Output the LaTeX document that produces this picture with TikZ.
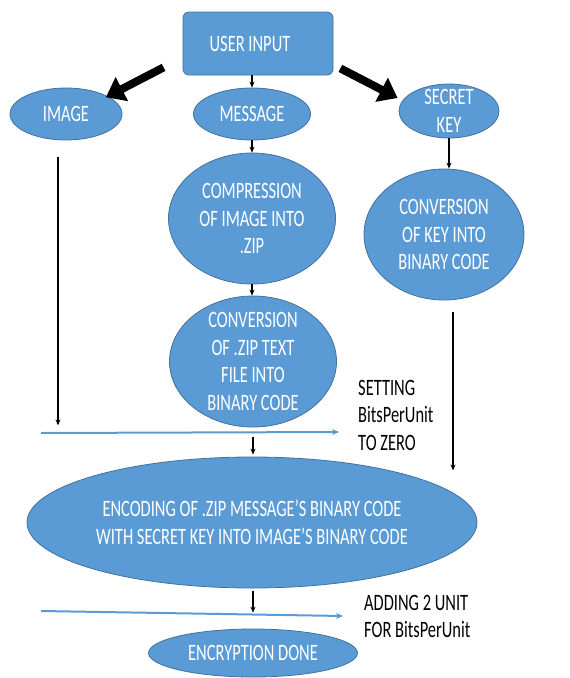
\documentclass[tikz,border=0pt]{standalone}
\usepackage{fontspec}
\setmainfont{Carlito}[FakeStretch=0.70]
\usetikzlibrary{shapes.geometric,arrows.meta,calc}
\definecolor{boxfill}{HTML}{5B9BD5}
\definecolor{boxline}{HTML}{41719C}
\begin{document}
\begin{tikzpicture}[x=1pt,y=-1pt,
 every node/.style={font=\fontsize{23.5}{27.5}\selectfont},
 oval/.style={ellipse,draw=boxline,fill=boxfill,line width=0.8pt,inner sep=0pt},
 intext/.style={label={[text=white,align=center,inner sep=0pt,font=\fontsize{23.5}{27.5}\selectfont]center:{#1}}},
 bigarrow/.style={line width=8pt,-{Triangle[length=18pt,width=26pt]}},
 smallarrow/.style={line width=1.5pt,-{Stealth[length=6pt,width=5pt]}},
 bluearrow/.style={draw=boxfill,line width=2pt,-{Stealth[length=7pt,width=6pt]}},
 note/.style={align=left,inner sep=0pt,anchor=north west}]
\useasboundingbox (0,0) rectangle (570,678);

\node[draw=boxline,fill=boxfill,line width=0.8pt,rounded corners=6pt,minimum width=150pt,minimum height=63pt,inner sep=0pt,
  label={[text=white,inner sep=0pt,xshift=-8pt,font=\fontsize{23.5}{27.5}\selectfont]center:USER INPUT}] (ui) at (258,43.5) {};

\node[oval,minimum width=112pt,minimum height=52pt,intext={IMAGE}] (img) at (66,114) {};
\node[oval,minimum width=117pt,minimum height=52pt,intext={MESSAGE}] (msg) at (252,114) {};
\node[oval,minimum width=100pt,minimum height=54pt,intext={SECRET\\KEY}] (key) at (449,111) {};

\node[oval,minimum width=167pt,minimum height=131pt,intext={COMPRESSION\\OF IMAGE INTO\\.ZIP}] (comp) at (252,218.5) {};
\node[oval,minimum width=167pt,minimum height=131pt,intext={CONVERSION\\OF .ZIP TEXT\\FILE INTO\\BINARY CODE}] (zipbin) at (253,361.5) {};
\node[oval,minimum width=160pt,minimum height=131pt,intext={CONVERSION\\OF KEY INTO\\BINARY CODE}] (keybin) at (444,234.5) {};

\node[oval,minimum width=450pt,minimum height=131pt,intext={ENCODING OF .ZIP MESSAGE’S BINARY CODE\\WITH SECRET KEY INTO IMAGE’S BINARY CODE}] (enc) at (252,522.5) {};
\node[oval,minimum width=209pt,minimum height=48pt,intext={ENCRYPTION DONE}] (done) at (253,653) {};

\node[note] (setting) at (358,380) {SETTING\\BitsPerUnit\\TO ZERO};
\node[note] (adding) at (364,595) {ADDING 2 UNIT\\FOR BitsPerUnit};

% thick arrows
\draw[bigarrow] ($(ui.south west)+(-19,-8)$) -- ($(img.north east)+(0,2)$);
\draw[bigarrow] ($(ui.south east)+(7,-7)$) -- ($(key.west)+(-1,-13)$);

% small arrows
\draw[smallarrow] ($(ui.south)+(-6,0)$) -- (msg.north);
\draw[smallarrow] (msg.south) -- (comp.north);
\draw[smallarrow] (comp.south) -- (comp.south |- zipbin.north);
\draw[smallarrow] (key.south) -- (key.south |- keybin.north);
\draw[smallarrow] ($(img.south)+(-8,17)$) -- ($(img.south)+(-8,285)$);
\draw[smallarrow] ($(keybin.south)+(9,12)$) -- ($(keybin.south)+(9,170)$);
\draw[smallarrow] ($(zipbin.south)+(0,10)$) -- ($(enc.north)+(1,-2)$);
\draw[smallarrow] ($(enc.south)+(1,3)$) -- ($(done.north)+(0,-16)$);

% blue lines
\coordinate (b1s) at (41,433);
\coordinate (b1e) at (339,432);
\coordinate (b2s) at (41,611);
\coordinate (b2e) at (343,616);
\draw[bluearrow] (b1s) -- (b1e);
\draw[bluearrow] (b2s) -- (b2e);
\end{tikzpicture}
\end{document}
